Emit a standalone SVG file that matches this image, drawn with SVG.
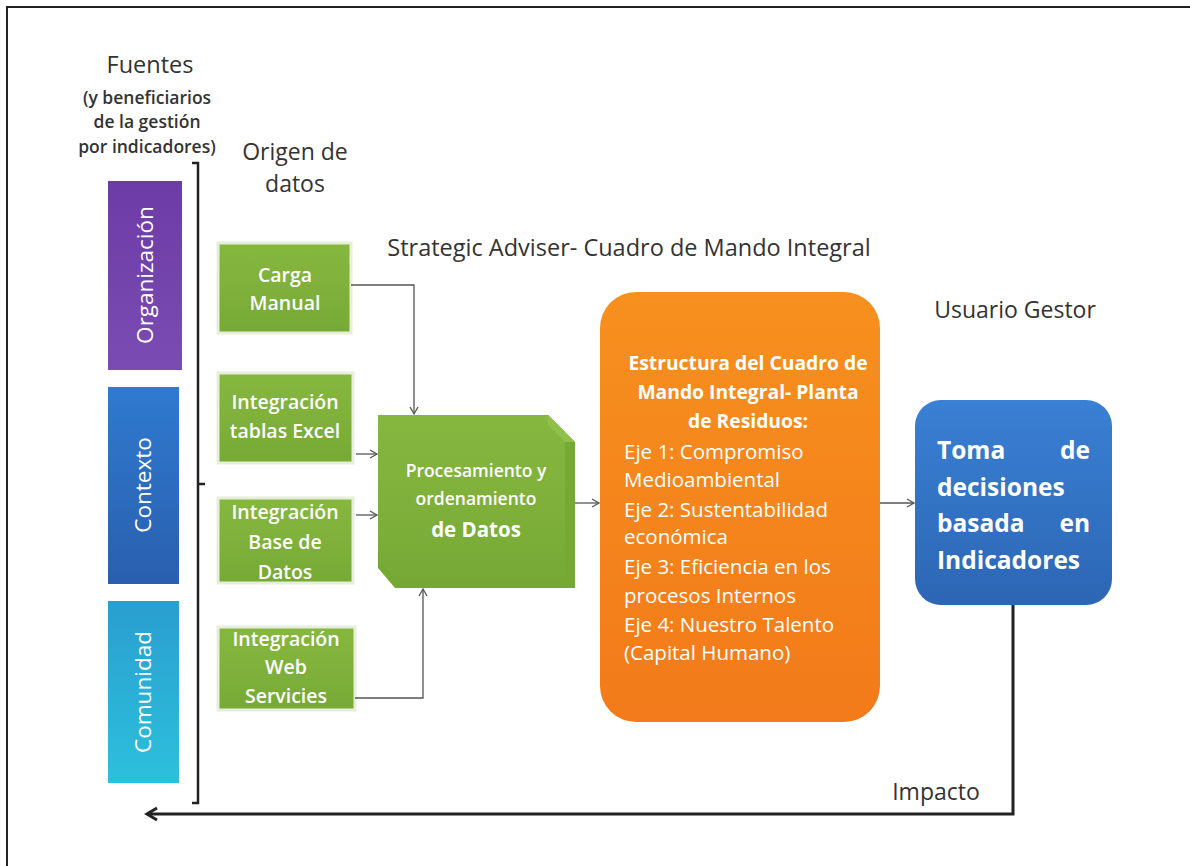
<svg xmlns="http://www.w3.org/2000/svg" width="1190" height="866" viewBox="0 0 1190 866">
<defs>
<linearGradient id="gPurple" x1="0" y1="0" x2="0" y2="1"><stop offset="0" stop-color="#6d3ba6"/><stop offset="1" stop-color="#7a4cb3"/></linearGradient>
<linearGradient id="gBlue" x1="0" y1="0" x2="0" y2="1"><stop offset="0" stop-color="#2f7ad0"/><stop offset="1" stop-color="#2a5fae"/></linearGradient>
<linearGradient id="gCyan" x1="0" y1="0" x2="0" y2="1"><stop offset="0" stop-color="#2a9ed0"/><stop offset="1" stop-color="#2cc0dc"/></linearGradient>
<linearGradient id="gOrange" x1="0" y1="0" x2="0" y2="1"><stop offset="0" stop-color="#f7901e"/><stop offset="1" stop-color="#f27a1a"/></linearGradient>
<linearGradient id="gTB" x1="0" y1="0" x2="0" y2="1"><stop offset="0" stop-color="#3a80d4"/><stop offset="1" stop-color="#2c66b4"/></linearGradient>
<linearGradient id="gGreen" x1="0" y1="0" x2="0" y2="1"><stop offset="0" stop-color="#86b840"/><stop offset="1" stop-color="#77a936"/></linearGradient>
<marker id="arr" markerWidth="10" markerHeight="10" refX="8" refY="5" orient="auto" markerUnits="userSpaceOnUse"><path d="M1,1 L8,5 L1,9" fill="none" stroke="#555" stroke-width="1.3"/></marker>
<marker id="arrBig" markerWidth="16" markerHeight="16" refX="13" refY="8" orient="auto" markerUnits="userSpaceOnUse"><path d="M3,2 L13,8 L3,14" fill="none" stroke="#222" stroke-width="3"/></marker>
</defs>
<style>
.lbl{font-family:"Open Sans","Liberation Sans",sans-serif;fill:#333;text-anchor:middle}
.w{font-family:"Open Sans","Liberation Sans",sans-serif;fill:#fff;text-anchor:middle}
.gt{font-family:"Open Sans","Liberation Sans",sans-serif;fill:#fff;text-anchor:middle;font-size:19.5px;font-weight:600}
.gbox{fill:url(#gGreen);stroke:#e8eedc;stroke-width:3}
.con{fill:none;stroke:#555;stroke-width:1.3}
</style>
<rect width="1190" height="866" fill="#fff"/>
<path d="M7,866 V7 H1190" fill="none" stroke="#222" stroke-width="2"/>

<g id="titles">
<text class="lbl" x="150" y="73" font-size="23.5">Fuentes</text>
<text class="lbl" x="147" y="104" font-size="17.5" font-weight="600">(y beneficiarios</text>
<text class="lbl" x="147" y="128" font-size="17.5" font-weight="600">de la gestión</text>
<text class="lbl" x="147" y="153" font-size="17.5" font-weight="600">por indicadores)</text>
<text class="lbl" x="295" y="160" font-size="23">Origen de</text>
<text class="lbl" x="295" y="192" font-size="23">datos</text>
<text class="lbl" x="629" y="256" font-size="23.5">Strategic Adviser- Cuadro de Mando Integral</text>
<text class="lbl" x="1015" y="318" font-size="23">Usuario Gestor</text>
<text class="lbl" x="936" y="800" font-size="23">Impacto</text>
</g>

<g id="organizacion">
<rect x="108" y="181" width="74" height="189" fill="url(#gPurple)"/>
<text class="w" transform="translate(153,275) rotate(-90)" font-size="22.5">Organización</text>
</g>
<g id="contexto">
<rect x="108" y="387" width="71" height="197" fill="url(#gBlue)"/>
<text class="w" transform="translate(151,485) rotate(-90)" font-size="22.5">Contexto</text>
</g>
<g id="comunidad">
<rect x="108" y="601" width="71" height="182" fill="url(#gCyan)"/>
<text class="w" transform="translate(151,692) rotate(-90)" font-size="22.5">Comunidad</text>
</g>
<g id="bracket">
<path d="M192,163 H198 V803 H192 M198,484 H205" fill="none" stroke="#222" stroke-width="2.5"/>
</g>

<g id="carga">
<rect class="gbox" x="218" y="243" width="133" height="90"/>
<text class="gt" x="285" y="282">Carga</text>
<text class="gt" x="285" y="310">Manual</text>
</g>
<g id="excel">
<rect class="gbox" x="218" y="373" width="135" height="90"/>
<text class="gt" x="285" y="409">Integración</text>
<text class="gt" x="285" y="438">tablas Excel</text>
</g>
<g id="basedatos">
<rect class="gbox" x="218" y="498" width="135" height="85"/>
<text class="gt" x="285" y="519">Integración</text>
<text class="gt" x="285" y="549">Base de</text>
<text class="gt" x="285" y="579">Datos</text>
</g>
<g id="web">
<rect class="gbox" x="218" y="627" width="137" height="83"/>
<text class="gt" x="286" y="646">Integración</text>
<text class="gt" x="286" y="674">Web</text>
<text class="gt" x="286" y="703">Servicies</text>
</g>

<g id="procesamiento">
<polygon points="378,415 548,415 575,442 575,588 395,588 378,568" fill="#76a934"/>
<polygon points="378,415 548,415 565,432 565,578 395,578 378,560" fill="url(#gGreen)"/>
<polygon points="548,415 575,442 565,442 548,425" fill="#8fc04a"/>
<text class="w" x="476" y="477" font-size="17.5" font-weight="600">Procesamiento y</text>
<text class="w" x="476" y="505" font-size="17.5" font-weight="600">ordenamiento</text>
<text class="w" x="476" y="537" font-size="20.5" font-weight="bold">de Datos</text>
</g>

<g id="estructura">
<rect x="600" y="292" width="280" height="430" rx="36" fill="url(#gOrange)"/>
<g class="w" font-size="19.3" font-weight="bold">
<text x="748" y="370">Estructura del Cuadro de</text>
<text x="748" y="399">Mando Integral- Planta</text>
<text x="748" y="428">de Residuos:</text>
</g>
<g font-family="Open Sans,Liberation Sans,sans-serif" fill="#fff" font-size="20.5">
<text x="624" y="459">Eje 1: Compromiso</text>
<text x="624" y="487">Medioambiental</text>
<text x="624" y="517">Eje 2: Sustentabilidad</text>
<text x="624" y="544">económica</text>
<text x="624" y="574">Eje 3: Eficiencia en los</text>
<text x="624" y="603">procesos Internos</text>
<text x="624" y="632">Eje 4: Nuestro Talento</text>
<text x="624" y="660">(Capital Humano)</text>
</g>
</g>

<g id="toma">
<rect x="915" y="400" width="197" height="205" rx="26" fill="url(#gTB)"/>
<g font-family="Open Sans,Liberation Sans,sans-serif" fill="#fff" font-size="24.5" font-weight="bold">
<text x="937" y="459">Toma</text>
<text x="1090" y="459" text-anchor="end">de</text>
<text x="937" y="496">decisiones</text>
<text x="937" y="532">basada</text>
<text x="1090" y="532" text-anchor="end">en</text>
<text x="937" y="569">Indicadores</text>
</g>
</g>

<g id="connectors">
<path class="con" d="M351,285 H414 V414" marker-end="url(#arr)"/>
<path class="con" d="M356,454 H377" marker-end="url(#arr)"/>
<path class="con" d="M356,515 H377" marker-end="url(#arr)"/>
<path class="con" d="M355,698 H423 V589" marker-end="url(#arr)"/>
<path class="con" d="M575,503 H599" marker-end="url(#arr)"/>
<path class="con" d="M880,503 H914" marker-end="url(#arr)"/>
<path d="M1013,605 V814 H147" fill="none" stroke="#222" stroke-width="3" marker-end="url(#arrBig)"/>
</g>
</svg>
